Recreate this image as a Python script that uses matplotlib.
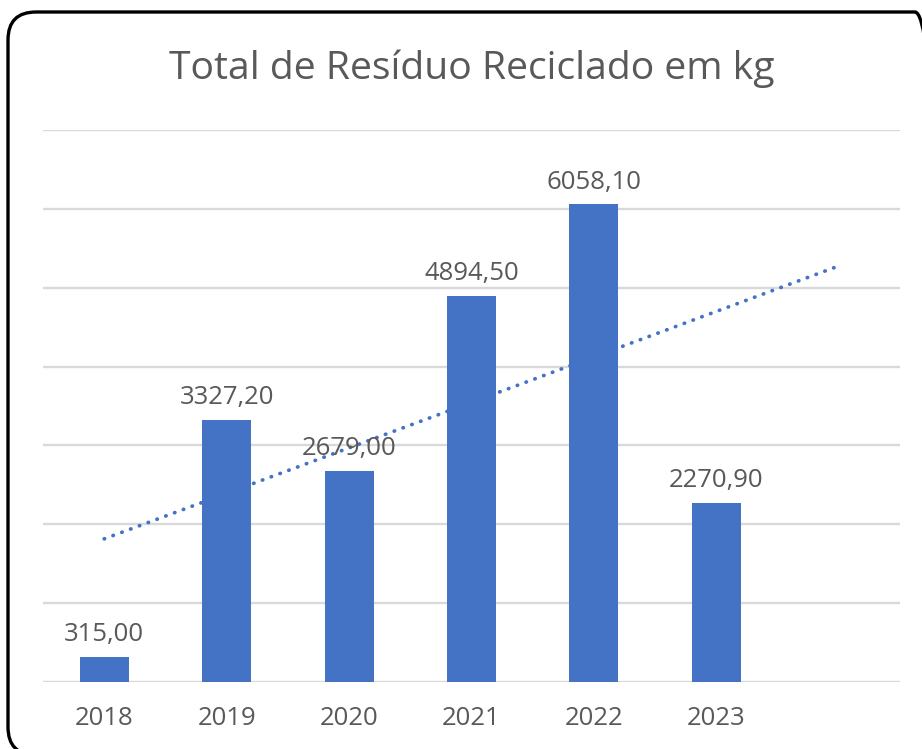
import matplotlib.pyplot as plt
from matplotlib.patches import FancyBboxPatch
from matplotlib.transforms import IdentityTransform
import numpy as np

anos = ['2018', '2019', '2020', '2021', '2022', '2023']
residuo_kg = [315.00, 3327.20, 2679.00, 4894.50, 6058.10, 2270.90]

azul = '#4472C4'
cinza_texto = '#595959'
cinza_grade = '#D9D9D9'

plt.rcParams['font.family'] = ['Open Sans', 'DejaVu Sans']

fig = plt.figure(figsize=(9.22, 7.49), dpi=100)
ax = fig.add_axes([43 / 922, 67 / 749, 857 / 922, 552 / 749])

x = np.arange(len(anos))

# linha de tendencia linear, com previsao de um periodo a frente
coef = np.polyfit(x, residuo_kg, 1)
x_tend = np.array([0, len(anos)])
ax.plot(x_tend, np.polyval(coef, x_tend), color=azul, lw=2.7,
        linestyle=(0, (0.1, 2.4)), dash_capstyle='round', zorder=1)

barras = ax.bar(x, residuo_kg, 0.40, color=azul, zorder=2)

for xi, v in zip(x, residuo_kg):
    rotulo = f'{v:.2f}'.replace('.', ',')
    ax.annotate(rotulo, (xi, v), xytext=(0, 7), textcoords='offset points',
                ha='center', va='bottom', fontsize=18.5, color=cinza_texto,
                zorder=3)

ax.set_xlim(-0.5, len(anos) + 0.5)
ax.set_ylim(0, 7000)
ax.set_yticks(np.arange(0, 7001, 1000))
ax.yaxis.grid(True, color=cinza_grade, lw=1.7, zorder=0)
ax.set_axisbelow(True)
ax.set_yticklabels([])
ax.tick_params(axis='y', length=0)

ax.set_xticks(x)
ax.set_xticklabels(anos, fontsize=18.5, color=cinza_texto)
ax.tick_params(axis='x', length=0, pad=17)

for lado in ['top', 'right', 'left', 'bottom']:
    ax.spines[lado].set_visible(False)

fig.text(472 / 922, 1 - 69 / 749, 'Total de Resíduo Reciclado em kg',
         ha='center', va='center', fontsize=28.2, color=cinza_texto)

# moldura arredondada do grafico
moldura = FancyBboxPatch((8, -6), 935, 743,
                         boxstyle='round,pad=0,rounding_size=28',
                         transform=IdentityTransform(), fill=False,
                         edgecolor='black', lw=2.4)
fig.patches.append(moldura)

fig.savefig('out.png', dpi=100)
